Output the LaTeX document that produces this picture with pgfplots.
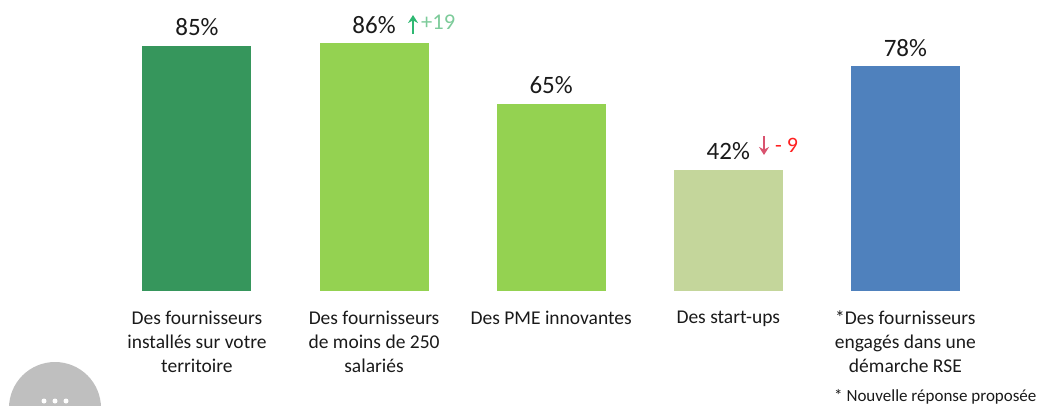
\documentclass[border=0pt]{standalone}
\usepackage{fontspec}
\usepackage{pgfplots}
\usetikzlibrary{arrows.meta}
\pgfplotsset{compat=1.18}
\setmainfont{Carlito}
\definecolor{dgreen}{HTML}{36965C}
\definecolor{mgreen}{HTML}{94D251}
\definecolor{lgreen}{HTML}{C4D69B}
\definecolor{mblue}{HTML}{4F81BD}
\definecolor{txt}{HTML}{1A1A1A}
\definecolor{upg}{HTML}{2EB872}
\definecolor{upt}{HTML}{7DCB9A}
\definecolor{dnr}{HTML}{D9536F}
\definecolor{dnt}{HTML}{FF2020}
\begin{document}
\begin{tikzpicture}[x=1pt,y=1pt]
\path[use as bounding box] (0,-114) rectangle (1040,291);
\fill[black!25] (55,-117) circle (46);
\foreach \xx in {44,55,66} \fill[white] (\xx,-110) circle (2.5);
\begin{axis}[
  at={(0,0)}, anchor=south west,
  scale only axis, width=1040pt, height=291pt,
  xmin=-1.112, xmax=4.76, ymin=0, ymax=101.04,
  clip=false,
  axis x line=bottom, axis y line=none,
  x axis line style={draw=none},
  xtick={0,1,2,3,4},
  xtick style={draw=none},
  xticklabels={Des fournisseurs\\installés sur votre\\territoire,
    Des fournisseurs\\de moins de 250\\salariés,
    Des PME innovantes,Des start-ups,
    *Des fournisseurs\\engagés dans une\\démarche RSE},
  xticklabel style={align=center,anchor=north,font=\fontsize{19.5}{24}\selectfont,text=txt,yshift=-12pt},
  ybar, bar width=109pt, bar shift=0pt,
  /pgf/number format/assume math mode=true,
  nodes near coords={\pgfmathprintnumber{\pgfplotspointmeta}\%},
  every node near coord/.append style={font=\fontsize{25}{27}\selectfont,text=txt,yshift=6.5pt},
]
\addplot[fill=dgreen,draw=none] coordinates {(0,85)};
\addplot[fill=mgreen,draw=none] coordinates {(1,86)};
\addplot[fill=mgreen,draw=none] coordinates {(2,65)};
\addplot[fill=lgreen,draw=none] coordinates {(3,42)};
\addplot[fill=mblue,draw=none] coordinates {(4,78)};
\end{axis}
\node[anchor=west,text=upt,font=\fontsize{22.5}{24}\selectfont,inner sep=0] at (421,269) {+19};
\draw[upg,line width=2.4pt,-{Stealth[length=8pt,width=10pt]}] (413,257) -- (413,276);
\node[anchor=west,text=dnt,font=\fontsize{22}{24}\selectfont,inner sep=0] at (775,146) {- 9};
\draw[dnr,line width=2.4pt,-{Stealth[length=8pt,width=10pt]}] (764,155) -- (764,136);
\node[anchor=west,text=txt,font=\fontsize{17}{19}\selectfont,inner sep=0] at (834,-105.5) {* Nouvelle réponse proposée};
\end{tikzpicture}
\end{document}
